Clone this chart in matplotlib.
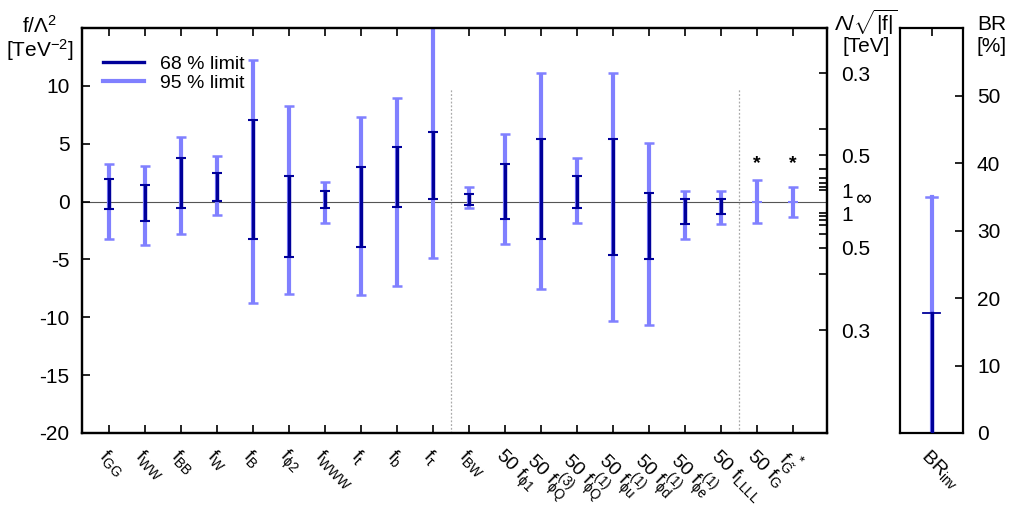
import numpy as np
import matplotlib
matplotlib.use("Agg")
import matplotlib.pyplot as plt

plt.rcParams['font.family'] = ['Liberation Sans', 'DejaVu Sans']
plt.rcParams['mathtext.fontset'] = 'custom'
plt.rcParams['mathtext.rm'] = 'Liberation Sans'
plt.rcParams['mathtext.it'] = 'Liberation Sans'
plt.rcParams['mathtext.bf'] = 'Liberation Sans:bold'
plt.rcParams['axes.unicode_minus'] = False

# operator labels
labels = [r"$f_{GG}$", r"$f_{WW}$", r"$f_{BB}$", r"$f_{W}$", r"$f_{B}$",
          r"$f_{\phi 2}$", r"$f_{WWW}$", r"$f_{t}$", r"$f_{b}$", r"$f_{\tau}$",
          r"$f_{BW}$", r"50 $f_{\phi 1}$", r"50 $f^{(3)}_{\phi Q}$",
          r"50 $f^{(1)}_{\phi Q}$", r"50 $f^{(1)}_{\phi u}$",
          r"50 $f^{(1)}_{\phi d}$", r"50 $f^{(1)}_{\phi e}$",
          r"50 $f_{LLLL}$", r"50 $f_{G}$", r"$f_{\tilde{G}}^{\ *}$"]

# 95 % limits
lo95 = [-3.2, -3.75, -2.8, -1.15, -8.8, -8.0, -1.88, -8.1, -7.3, -4.9,
        -0.55, -3.64, -7.53, -1.82, -10.36, -10.7, -3.23, -1.9, -1.85, -1.3]
hi95 = [3.24, 3.09, 5.6, 3.93, 12.2, 8.23, 1.73, 7.27, 8.97, 16.0,
        1.27, 5.8, 11.08, 3.76, 11.08, 5.02, 0.95, 0.95, 1.88, 1.25]

# 68 % limits (none for the last two)
lo68 = [-0.63, -1.70, -0.57, 0.09, -3.2, -4.8, -0.52, -3.9, -0.43, 0.23,
        -0.32, -1.5, -3.2, -0.52, -4.6, -4.99, -1.9, -1.06]
hi68 = [1.94, 1.47, 3.78, 2.51, 7.07, 2.22, 0.92, 3.0, 4.7, 6.03,
        0.67, 3.24, 5.37, 2.25, 5.37, 0.72, 0.23, 0.23]

# invisible Higgs branching ratio [%]
br68 = 17.8
br95 = 35.0

# Lambda/sqrt|f| scale
lam_ticks = [0.3, 0.5, 1.0]
lam_minor = [0.4, 0.6, 0.7, 0.8, 0.9]

dark = '#00009a'
light = '#8080ff'

fig = plt.figure(figsize=(10.21, 5.07), dpi=100)
ax = fig.add_axes([82/1021, 74/507, 745/1021, 405/507])
axb = fig.add_axes([900/1021, 74/507, 63/1021, 405/507])

x = np.arange(len(labels))
lo95 = np.array(lo95); hi95 = np.array(hi95)
lo68 = np.array(lo68); hi68 = np.array(hi68)

ax.axhline(0, color='#555555', lw=0.8, zorder=1)
for xv in [9.5, 17.5]:
    ax.plot([xv, xv], [-20, 9.8], color='#aaaaaa', lw=0.9, ls=(0, (1.5, 1.5)), zorder=1)

ax.errorbar(x, (lo95 + hi95) / 2, yerr=(hi95 - lo95) / 2, fmt='none',
            ecolor=light, elinewidth=3, capsize=3.5, capthick=1.8, zorder=2)
x68 = x[:len(lo68)]
ax.errorbar(x68, (lo68 + hi68) / 2, yerr=(hi68 - lo68) / 2, fmt='none',
            ecolor=dark, elinewidth=2.4, capsize=3.5, capthick=1.5, zorder=3)
ax.plot(x[len(lo68):], [0, 0], ls='none', marker='_', ms=7, mew=1.5, color=light, zorder=3)
for xi in x[len(lo68):]:
    ax.text(xi, 3.3, '*', ha='center', va='center', fontsize=14, fontweight='bold')

# legend
ax.plot([], [], color=dark, lw=2.4, label='68 % limit')
ax.plot([], [], color=light, lw=3, label='95 % limit')
ax.legend(loc='upper left', bbox_to_anchor=(0.005, 0.975), frameon=False, fontsize=14,
          handlelength=2.1, handletextpad=0.8, labelspacing=0.05)

ax.set_xlim(-0.75, 19.94)
ax.set_ylim(-20, 15)
ax.set_yticks(np.arange(-20, 11, 5))
ax.set_xticks(x)
ax.set_xticklabels(labels, rotation=-45, ha='left', va='top', rotation_mode='anchor', fontsize=14)
ax.tick_params(axis='x', direction='in', top=True, length=6, width=1.2, pad=9)
ax.tick_params(axis='y', direction='in', length=6, width=1.2, labelsize=15, pad=9)
for s in ax.spines.values():
    s.set_linewidth(1.6)

# right-hand Lambda/sqrt|f| scale
ax2 = ax.twinx()
ax2.set_ylim(-20, 15)
maj = [1 / v**2 for v in lam_ticks]
ax2.set_yticks(maj + [-m for m in maj])
ax2.set_yticklabels([str(v).rstrip('0').rstrip('.') for v in lam_ticks] * 2, fontsize=15)
mnr = [1 / v**2 for v in lam_minor]
ax2.set_yticks(mnr + [-m for m in mnr], minor=True)
ax2.tick_params(axis='y', which='both', direction='in', length=6, width=1.2, pad=10)
ax2.text(1.037, 0.35, r'$\infty$', transform=ax2.get_yaxis_transform(), fontsize=16,
         ha='left', va='center')
for s in ax2.spines.values():
    s.set_linewidth(1.6)

# BR panel
axb.plot([0, 0], [0, br95], color=light, lw=3, zorder=2)
axb.plot([-0.085, 0.085], [br95, br95], color=light, lw=1.8, zorder=2)
axb.plot([0, 0], [0, br68], color=dark, lw=2.4, zorder=3)
axb.plot([-0.135, 0.135], [br68, br68], color=dark, lw=1.3, zorder=3)
axb.set_xlim(-0.53, 0.53)
axb.set_ylim(0, 60)
axb.set_yticks(np.arange(0, 51, 10))
axb.yaxis.tick_right()
axb.tick_params(axis='y', direction='in', length=6, width=1.2, labelsize=15, pad=10)
axb.set_xticks([0])
axb.set_xticklabels([r"$BR_{inv}$"], rotation=-45, ha='left', va='top',
                    rotation_mode='anchor', fontsize=14)
axb.tick_params(axis='x', direction='in', top=True, length=6, width=1.2, pad=9)
for s in axb.spines.values():
    s.set_linewidth(1.6)

# axis titles
fig.text(40/1021, 1 - 26/507, r"f/$\Lambda^2$", ha='center', va='center', fontsize=15)
fig.text(40/1021, 1 - 50/507, r"[TeV$^{-2}$]", ha='center', va='center', fontsize=15)
fig.text(866/1021, 1 - 22/507, r"$\Lambda/\sqrt{|f|}$", ha='center', va='center', fontsize=15)
fig.text(866/1021, 1 - 47/507, "[TeV]", ha='center', va='center', fontsize=15)
fig.text(992/1021, 1 - 24/507, "BR", ha='center', va='center', fontsize=15)
fig.text(992/1021, 1 - 47/507, "[%]", ha='center', va='center', fontsize=15)

fig.savefig('out.png', dpi=100)
